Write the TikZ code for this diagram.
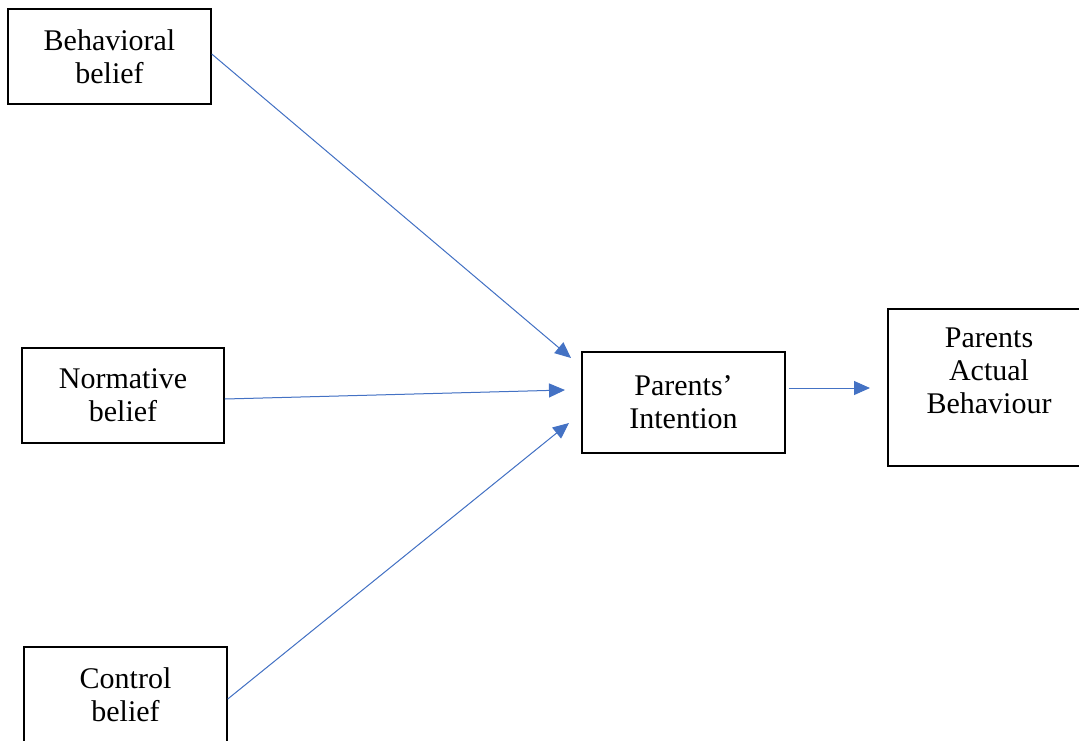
\documentclass[tikz,border=0pt]{standalone}
\usepackage{fontspec}
\setmainfont{Liberation Serif}
\usetikzlibrary{arrows.meta}
\definecolor{arrowblue}{HTML}{4472C4}
\begin{document}
\begin{tikzpicture}[x=1pt,y=-1pt,
  box/.style={draw=black,line width=1.5pt,rectangle,inner sep=0pt,align=center,
    font=\fontsize{30}{33}\selectfont},
  conn/.style={draw=arrowblue,line width=1pt,-{Triangle[length=16pt,width=14pt]},fill=arrowblue}]
\useasboundingbox (0,0) rectangle (1079,740);
\clip (0,0) rectangle (1079,740);
\node[box,minimum width=203pt,minimum height=95pt] (beh) at (109.5,56.5) {Behavioral\\belief};
\node[box,minimum width=202pt,minimum height=95pt] (norm) at (123,395.5) {Normative\\belief};
\node[box,minimum width=203pt,minimum height=96pt] (ctrl) at (125.5,695) {Control\\belief};
\node[box,minimum width=203pt,minimum height=101pt] (int) at (683.5,402.5) {Parents’\\Intention};
\node[box,minimum width=202pt,minimum height=157pt] (pab) at (989,387.5) {Parents\\Actual\\Behaviour\\\mbox{}};
\coordinate (t1) at (571,358);
\coordinate (t2) at (565,390);
\coordinate (t3) at (569,423);
\coordinate (t4) at (870,388);
\draw[conn] (beh.east |- 0,54) -- (t1);
\draw[conn] (norm.east |- 0,399) -- (t2);
\draw[conn] (ctrl.east |- 0,699) -- (t3);
\draw[conn] ([xshift=3pt]int.east |- 0,388) -- (t4);
\end{tikzpicture}
\end{document}
